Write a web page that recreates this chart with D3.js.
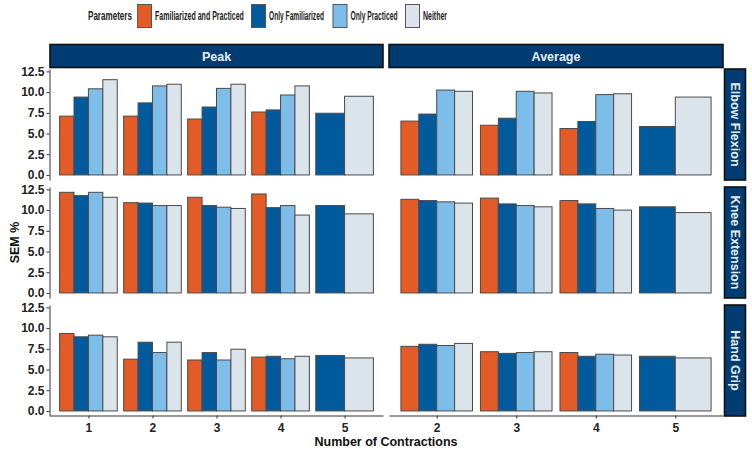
<!DOCTYPE html>
<html>
<head>
<meta charset="utf-8">
<script src="https://cdn.jsdelivr.net/npm/d3@7"></script>
<style>
  body { margin: 0; background: #ffffff; }
  svg { display: block; }
</style>
</head>
<body>
<svg id="chart" width="752" height="453"></svg>
<script>

// series (fill groups) and colours
var series = ["Familiarized and Practiced", "Only Familiarized", "Only Practiced", "Neither"];
var seriesColors = ["#e35b27", "#005a9c", "#7dbdea", "#dbe4eb"];

// facets
var measures = ["Peak", "Average"];
var movements = ["Elbow Flexion", "Knee Extension", "Hand Grip"];

// x categories for each column
var peakContractions = ["1", "2", "3", "4", "5"];
var averageContractions = ["2", "3", "4", "5"];

// y ticks
var yTicks = [0, 2.5, 5, 7.5, 10, 12.5];

// values per contraction: [Fam & Prac, Only Fam, Only Prac, Neither]
var elbowPeak = [[7.1, 9.4, 10.4, 11.5], [7.1, 8.7, 10.75, 10.95], [6.75, 8.2, 10.45, 10.95], [7.6, 7.85, 9.65, 10.75], [null, 7.45, null, 9.5]];
var elbowAverage = [[6.5, 7.35, 10.25, 10.1], [6.0, 6.85, 10.1, 9.9], [5.6, 6.45, 9.7, 9.8], [null, 5.85, null, 9.4]];
var kneePeak = [[12.15, 11.75, 12.15, 11.55], [10.9, 10.85, 10.55, 10.55], [11.55, 10.55, 10.35, 10.2], [11.95, 10.3, 10.55, 9.4], [null, 10.55, null, 9.55]];
var kneeAverage = [[11.3, 11.15, 11.0, 10.85], [11.45, 10.75, 10.55, 10.4], [11.15, 10.75, 10.2, 10.0], [null, 10.4, null, 9.7]];
var gripPeak = [[9.35, 8.95, 9.15, 8.95], [6.25, 8.3, 7.05, 8.3], [6.15, 7.05, 6.15, 7.45], [6.5, 6.6, 6.3, 6.6], [null, 6.7, null, 6.4]];
var gripAverage = [[7.8, 8.05, 7.9, 8.15], [7.15, 6.95, 7.05, 7.15], [7.05, 6.6, 6.85, 6.75], [null, 6.6, null, 6.4]];

var panelData = [[elbowPeak, elbowAverage], [kneePeak, kneeAverage], [gripPeak, gripAverage]];
var panelCats = [peakContractions, averageContractions];

var svg = d3.select("#chart");
var tickFont = "'Liberation Sans', Arial, sans-serif";
var stripFill = "#003b71";

// panel layout
var cols = [{x0: 50, x1: 383}, {x0: 389, x1: 723}];
var rows = [{y0: 69, y1: 180}, {y0: 187, y1: 298}, {y0: 305, y1: 416}];
var yDomain = [-0.61, 12.79];

// column strips on top
measures.forEach(function(m, c) {
    var g = svg.append("g");
    g.append("rect")
        .attr("x", cols[c].x0)
        .attr("y", 44.5)
        .attr("width", cols[c].x1 - cols[c].x0)
        .attr("height", 23)
        .attr("fill", stripFill)
        .attr("stroke", "#111")
        .attr("stroke-width", 1.6);
    g.append("text")
        .attr("x", (cols[c].x0 + cols[c].x1) / 2)
        .attr("y", 56)
        .attr("dy", "0.36em")
        .attr("text-anchor", "middle")
        .style("font-family", tickFont)
        .style("font-weight", "bold")
        .style("font-size", "12.5px")
        .attr("fill", "#e8eef5")
        .text(m);
});

// row strips on the right
movements.forEach(function(m, r) {
    var g = svg.append("g");
    g.append("rect")
        .attr("x", 724.5)
        .attr("y", rows[r].y0)
        .attr("width", 21)
        .attr("height", rows[r].y1 - rows[r].y0)
        .attr("fill", stripFill)
        .attr("stroke", "#111")
        .attr("stroke-width", 1.6);
    var cy = (rows[r].y0 + rows[r].y1) / 2;
    g.append("text")
        .attr("transform", "translate(735," + cy + ") rotate(90)")
        .attr("dy", "0.36em")
        .attr("text-anchor", "middle")
        .style("font-family", tickFont)
        .style("font-weight", "bold")
        .style("font-size", "12.5px")
        .attr("fill", "#e8eef5")
        .text(m);
});

// draw each panel
rows.forEach(function(row, r) {
    var y = d3.scaleLinear().domain(yDomain).range([row.y1, row.y0]);

    cols.forEach(function(col, c) {
        var cats = panelCats[c];
        var data = panelData[r][c];
        var x = d3.scalePoint().domain(cats).range([col.x0, col.x1]).padding(0.6);
        var step = x.step();

        var panel = svg.append("g").attr("class", "panel");

        cats.forEach(function(cat, i) {
            var present = [];
            data[i].forEach(function(v, s) { if (v !== null) present.push(s); });
            var inner = d3.scaleBand()
                .domain(present)
                .range([x(cat) - 0.45 * step, x(cat) + 0.45 * step]);

            panel.selectAll(".bar" + i)
                .data(present)
                .enter().append("rect")
                .attr("x", function(s) { return inner(s); })
                .attr("y", function(s) { return y(data[i][s]); })
                .attr("width", inner.bandwidth())
                .attr("height", function(s) { return y(0) - y(data[i][s]); })
                .attr("fill", function(s) { return seriesColors[s]; })
                .attr("stroke", "#4a4a4a")
                .attr("stroke-width", 1);
        });

        // y axis only on the left column
        if (c === 0) {
            var ya = svg.append("g")
                .attr("transform", "translate(" + (col.x0 - 0.5) + ",0)")
                .call(d3.axisLeft(y)
                    .tickValues(yTicks)
                    .tickFormat(d3.format(".1f"))
                    .tickSize(3)
                    .tickSizeOuter(0));
            ya.selectAll("text")
                .style("font-family", tickFont)
                .style("font-weight", "bold")
                .style("font-size", "12px")
                .attr("fill", "#222")
                .attr("x", -5);
            ya.selectAll("line, path").attr("stroke", "#333");
        }

        // x axis only on the bottom row
        if (r === rows.length - 1) {
            var xa = svg.append("g")
                .attr("transform", "translate(0," + (row.y1 - 0.5) + ")")
                .call(d3.axisBottom(x).tickSize(3).tickSizeOuter(0));
            xa.selectAll("text")
                .style("font-family", tickFont)
                .style("font-weight", "bold")
                .style("font-size", "12px")
                .attr("fill", "#222")
                .attr("y", 8);
            xa.selectAll("line, path").attr("stroke", "#333");
        }
    });
});

// axis titles
svg.append("text")
    .attr("x", 386)
    .attr("y", 446)
    .attr("text-anchor", "middle")
    .style("font-family", tickFont)
    .style("font-weight", "bold")
    .style("font-size", "12.5px")
    .attr("fill", "#111")
    .text("Number of Contractions");

svg.append("text")
    .attr("transform", "translate(14," + ((rows[0].y0 + rows[2].y1) / 2) + ") rotate(-90)")
    .attr("dy", "0.36em")
    .attr("text-anchor", "middle")
    .style("font-family", tickFont)
    .style("font-weight", "bold")
    .style("font-size", "12.5px")
    .attr("fill", "#111")
    .text("SEM %");

// legend at the top (condensed lettering: squeeze each label to its width)
var legendFont = "'Liberation Sans Narrow', 'Liberation Sans', sans-serif";
var legend = svg.append("g").attr("class", "legend");
var keyX = [137, 251, 332.5, 405];
var labelWidths = [89, 55, 47, 24];

function squeezeText(sel, x, width) {
    sel.attr("x", 0)
        .attr("y", 0)
        .attr("dy", "0.36em")
        .style("font-family", legendFont)
        .style("font-weight", "bold")
        .style("font-size", "12px")
        .attr("fill", "#222");
    var w = sel.node().getComputedTextLength();
    sel.attr("transform", "translate(" + x + ",16) scale(" + Math.min(1, width / w) + ",1)");
}

squeezeText(legend.append("text").text("Parameters"), 88, 44);

var items = legend.selectAll(".item")
    .data(series)
    .enter().append("g")
    .attr("class", "item")
    .attr("transform", function(d, i) { return "translate(" + keyX[i] + ",0)"; });

items.append("rect")
    .attr("x", 0.5)
    .attr("y", 4.5)
    .attr("width", 14)
    .attr("height", 23)
    .attr("fill", function(d, i) { return seriesColors[i]; })
    .attr("stroke", "#555")
    .attr("stroke-width", 1);

items.each(function(d, i) {
    squeezeText(d3.select(this).append("text").text(d), 18, labelWidths[i]);
});

</script>
</body>
</html>
